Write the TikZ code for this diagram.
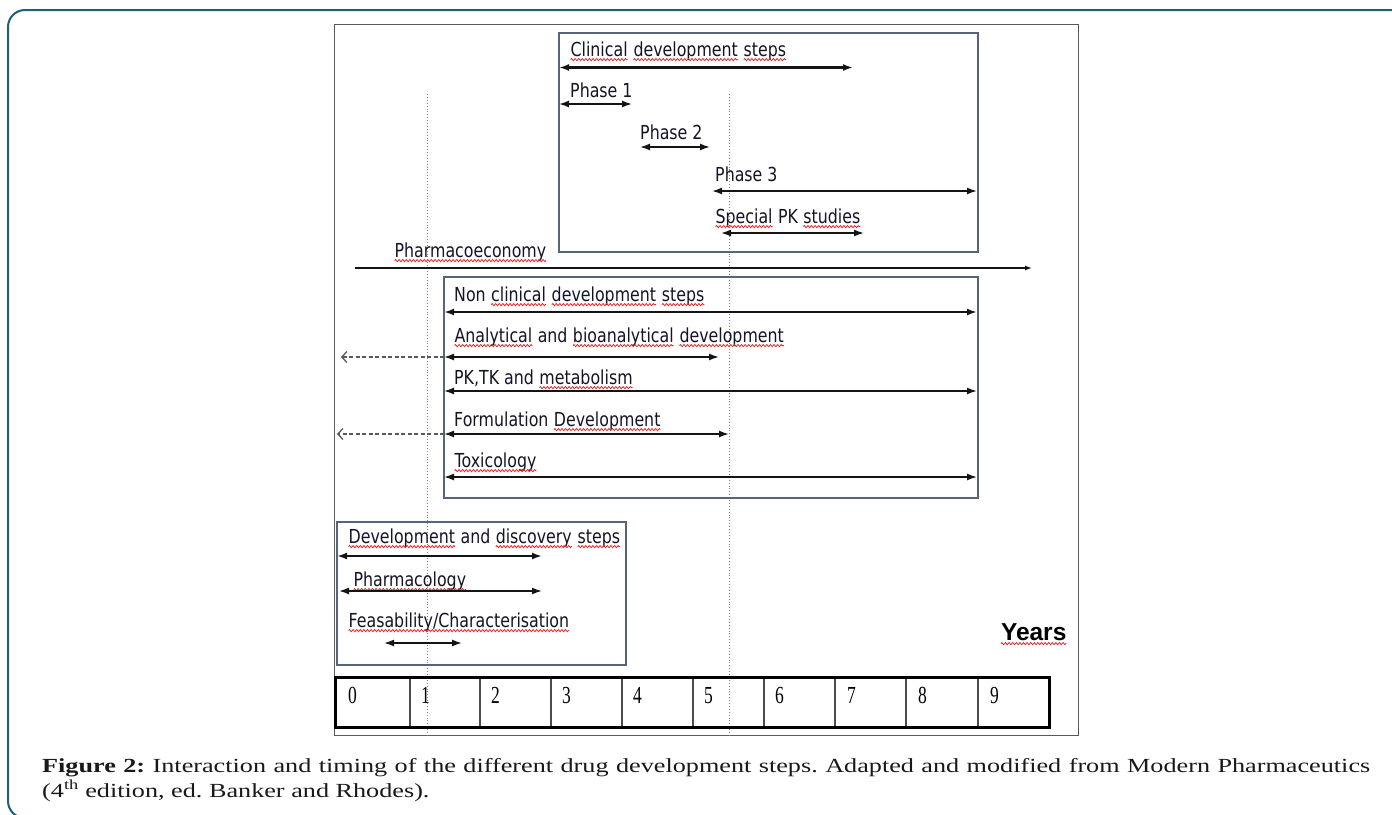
\documentclass[tikz,border=0pt]{standalone}
\usepackage{fontspec}
\usepackage{graphicx}
\usetikzlibrary{arrows.meta,decorations.pathmorphing}
\newfontfamily\lab[FakeStretch=0.82]{DejaVu Sans}
\newfontfamily\yrsf{Liberation Sans}
\newfontfamily\capf[FakeStretch=1.31]{Liberation Serif}
\newfontfamily\numf{Liberation Serif}
\definecolor{framec}{RGB}{28,96,116}
\definecolor{boxc}{RGB}{88,100,122}
\definecolor{txt}{RGB}{20,20,40}
\definecolor{arr}{RGB}{20,20,20}
\definecolor{squig}{RGB}{235,40,40}
\frenchspacing
\newcommand\sq[1]{\tikz[baseline=(sqw.base)]{\node[inner sep=0pt,outer sep=0pt] (sqw) {#1};
  \draw[squig, line width=0.8pt, decorate, decoration={zigzag, amplitude=1.1pt, segment length=3.6pt}] ([yshift=-3.6pt]sqw.base west) -- ([yshift=-3.6pt]sqw.base east);}}
\begin{document}
\begin{tikzpicture}[x=1pt,y=-1pt,
  lbl/.style={anchor=base west, inner sep=0pt, font=\lab\fontsize{19.3}{22}\selectfont, text=txt},
  boxl/.style={draw=boxc, line width=1.3pt},
  span/.style={draw=arr, line width=1.6pt, {Latex[length=10pt,width=7pt]}-{Latex[length=10pt,width=7pt]}},
  bigspan/.style={span, line width=2.8pt},
  back/.style={draw=black!65, dash pattern=on 4pt off 2.5pt, line width=1.5pt, -{Straight Barb[length=5pt,width=11pt,line width=1.3pt]}},
  vguide/.style={draw=black!50, dotted, line width=0.9pt},
  digit/.style={anchor=base west, inner sep=0pt, font=\numf\fontsize{17.5}{18}\selectfont, text=black},
  capt/.style={anchor=base west, inner sep=0pt, font=\capf\fontsize{20}{23}\selectfont, text=black!90}]
\useasboundingbox (0,0) rectangle (1392,814);
% outer rounded frame
\begin{scope}
\clip (0,0) rectangle (1392,814);
\draw[framec, line width=2pt, rounded corners=17pt] (8,10) rectangle (1430,818);
\end{scope}
% figure frame
\draw[black!65, line width=1pt] (334,24) rectangle (1078,735);
% dotted guides
\draw[vguide] (427,94) -- (427,735);
\draw[vguide] (729,94) -- (729,735);

% clinical box
\draw[boxl] (559,33) rectangle (978,252);
\node[lbl] (tclin) at (570,56) {\sq{Clinical} \sq{development} \sq{steps}};
\coordinate (clA) at (559,67.5); \coordinate (clB) at (853,67.5);
\draw[bigspan] (clA) -- (clB);
\node[lbl] (tp1) at (570,97) {Phase 1};
\coordinate (p1A) at (559,104); \coordinate (p1B) at (632,104);
\draw[span] (p1A) -- (p1B);
\node[lbl] (tp2) at (640,139) {Phase 2};
\coordinate (p2A) at (640,147); \coordinate (p2B) at (710,147);
\draw[span] (p2A) -- (p2B);
\node[lbl] (tp3) at (715,181) {Phase 3};
\coordinate (p3A) at (712,191); \coordinate (p3B) at (977,191);
\draw[span] (p3A) -- (p3B);
\node[lbl] (tpk) at (715,223) {\sq{Special} PK \sq{studies}};
\coordinate (pkA) at (721,233); \coordinate (pkB) at (864,233);
\draw[span] (pkA) -- (pkB);

% pharmacoeconomy
\node[lbl] (tpe) at (394,257) {\sq{Pharmacoeconomy}};
\coordinate (peA) at (355,268); \coordinate (peB) at (1032,268);
\draw[draw=arr, line width=1.3pt, -{Latex[length=7pt,width=5pt]}] (peA) -- (peB);

% non clinical box
\draw[boxl] (444,277) rectangle (978,498);
\node[lbl] (tnc) at (454,301) {Non \sq{clinical} \sq{development} \sq{steps}};
\coordinate (ncA) at (444,312); \coordinate (ncB) at (977,312);
\draw[bigspan] (ncA) -- (ncB);
\node[lbl] (tan) at (454,342) {\sq{Analytical} and \sq{bioanalytical} \sq{development}};
\coordinate (anA) at (444,357); \coordinate (anB) at (719,357); \coordinate (anC) at (341,357);
\draw[back] (anA) -- (anC);
\draw[span] (anA) -- (anB);
\node[lbl] (tpt) at (454,384) {PK,TK and \sq{metabolism}};
\coordinate (ptA) at (444,391); \coordinate (ptB) at (977,391);
\draw[span] (ptA) -- (ptB);
\node[lbl] (tfo) at (454,426) {Formulation \sq{Development}};
\coordinate (foA) at (444,434); \coordinate (foB) at (729,434); \coordinate (foC) at (337,434);
\draw[back] (foA) -- (foC);
\draw[span] (foA) -- (foB);
\node[lbl] (ttx) at (454,467) {\sq{Toxicology}};
\coordinate (txA) at (444,477); \coordinate (txB) at (977,477);
\draw[span] (txA) -- (txB);

% discovery box
\draw[boxl] (337,522) rectangle (626,665);
\node[lbl] (tdd) at (348,543) {\sq{Development} and \sq{discovery} \sq{steps}};
\coordinate (ddA) at (337,556); \coordinate (ddB) at (542,556);
\draw[bigspan] (ddA) -- (ddB);
\node[lbl] (tph) at (353,586) {\sq{Pharmacology}};
\coordinate (phA) at (339,591); \coordinate (phB) at (542,591);
\draw[span] (phA) -- (phB);
\node[lbl] (tfe) at (348,627) {\sq{Feasability/Characterisation}};
\coordinate (feA) at (384,643); \coordinate (feB) at (462,643);
\draw[span] (feA) -- (feB);

% years
\node[anchor=base east, inner sep=0pt, font=\yrsf\bfseries\fontsize{24.5}{28}\selectfont] (tyr) at (1067,640) {\sq{Years}};

% year bar
\foreach \x in {410,480,551,622,693,764,835,906,978}
  \draw[black!70, line width=2pt] (\x,677) -- (\x,727);
\draw[black, line width=3pt] (335,677) rectangle (1049,727);
\foreach \x/\d in {348/0,421/1,491/2,562/3,633/4,704/5,775/6,847/7,918/8,990/9}
  \node[digit] (y\d) at (\x,703) {\scalebox{1}[1.4]{\d}};

% caption
\node[capt] (cap1) at (42,772) {\makebox[1328pt][s]{\textbf{Figure 2:} Interaction and timing of the different drug development steps. Adapted and modified from Modern Pharmaceutics}};
\node[capt] (cap2) at (42,797) {(4\textsuperscript{th} edition, ed. Banker and Rhodes).};
\end{tikzpicture}
\end{document}
